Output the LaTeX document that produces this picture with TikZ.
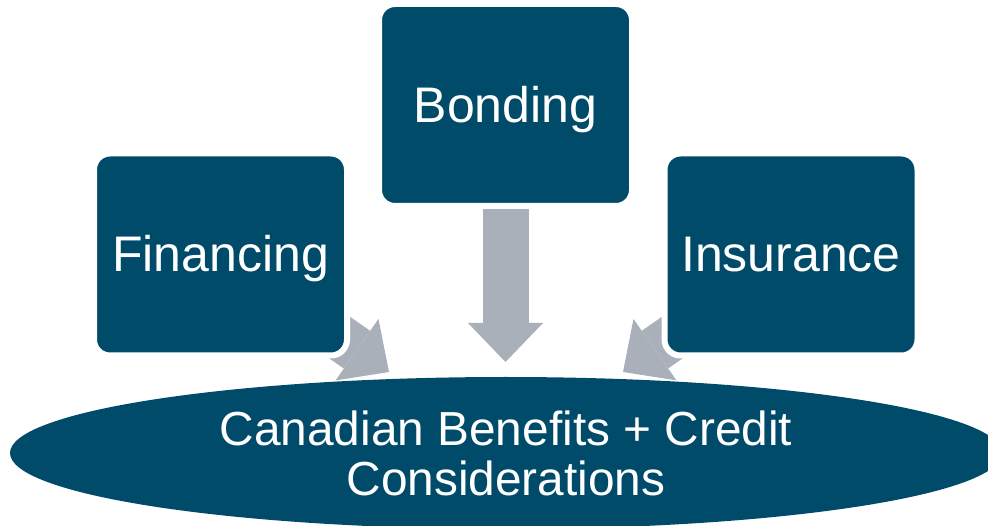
\documentclass[tikz,border=0pt]{standalone}
\usepackage{fontspec}
\setmainfont{Liberation Sans}
\usetikzlibrary{arrows.meta,shapes.geometric,backgrounds}
\definecolor{boxblue}{RGB}{0,75,106}
\definecolor{arrowgray}{RGB}{169,176,185}

\begin{document}
\begin{tikzpicture}[
		x=1pt, y=1pt,
		box/.style={rectangle, rounded corners=16pt, fill=boxblue, draw=white, line width=6pt,
			minimum width=253pt, minimum height=202pt, inner sep=0pt,
			text=white, font=\fontsize{50}{52}\selectfont, text height=34.4pt, text depth=0pt},
		base/.style={ellipse, fill=boxblue, minimum width=992pt, minimum height=152pt, inner sep=0pt,
			text=white, align=center, font=\fontsize{47.8}{50}\selectfont},
		blockarrow/.style={arrowgray, line width=46pt,
			-{Triangle[width=75pt, length=39pt, line width=0pt]}}]
	\useasboundingbox (0,0) rectangle (988,525);
	%% define boxes
	\node (bonding) at (505.5,420) [box] {Bonding};
	\node (financing) at (220.5,270.5) [box] {Financing};
	\node (insurance) at (791,270.5) [box] {Insurance};
	\node (benefits) at (506,72) [base] {Canadian Benefits + Credit\\Considerations};
	%% define arrow tips
	\coordinate (btip) at (505.5,163);
	\coordinate (ftip) at (389,153);
	\coordinate (itip) at (623,153);
	%% define arrows
	\begin{scope}[on background layer]
		\draw[blockarrow] (bonding.south) -- (btip);
		\draw[blockarrow] (financing.center) -- (ftip);
		\draw[blockarrow] (insurance.center) -- (itip);
	\end{scope}
\end{tikzpicture}
\end{document}
